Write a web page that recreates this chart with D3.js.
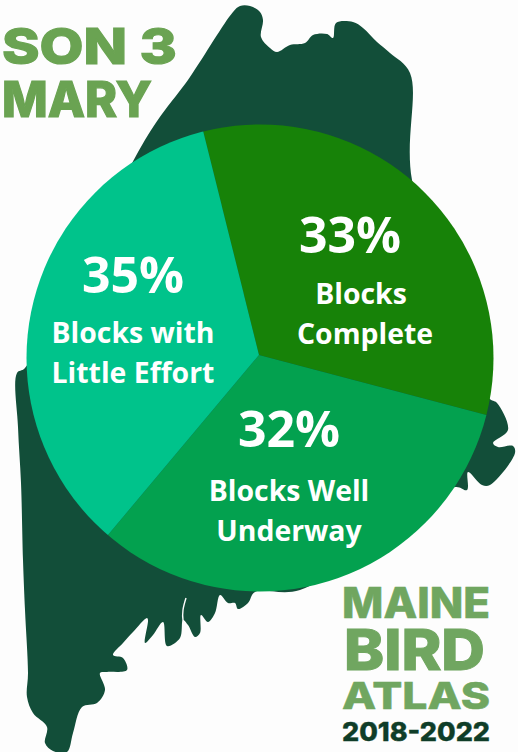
<!DOCTYPE html>
<html>
<head>
<meta charset="utf-8">
<style>
html, body { margin: 0; padding: 0; background: #fdfdfd; }
svg { display: block; }
text { font-family: "Open Sans", sans-serif; font-weight: 700; fill: #fff; text-anchor: middle; }
</style>
<script src="https://cdn.jsdelivr.net/npm/d3@7"></script>
</head>
<body>
<div id="chart"></div>
<script>
// chart values
const categories = ['Blocks Complete', 'Blocks Well Underway', 'Blocks with Little Effort'];
const percents = [33, 32, 35];
const sliceColors = ['#178208', '#03a14f', '#00c38b'];
const labelLines = [['Blocks', 'Complete'], ['Blocks Well', 'Underway'], ['Blocks with', 'Little Effort']];

const titleLines = ['SON 3', 'MARY'];
const logoLines = ['MAINE', 'BIRD', 'ATLAS', '2018-2022'];

// state silhouette behind the pie, traced by hand
const mapOutline = [
	[190,77],[233,12],[240,6],[250,6],[260,12],[263,20],[261,37],[270,48],[277,52],[290,45],[305,43],
	[313,35],[327,34],[333,38],[336,23],[353,22],[363,28],[377,42],[390,53],[410,73],[412,180],
	[489,398],[497,403],[508,430],[493,443],[498,447],[513,446],[515,453],[490,485],[482,485],
	[468,472],[467,490],[455,487],[300,590],[255,592],[248,603],[238,609],[235,603],[228,603],
	[220,595],[215,613],[208,622],[201,615],[200,633],[195,637],[188,625],[183,620],[180,638],
	[167,646],[163,622],[153,635],[145,643],[148,620],[147,618],[133,632],[123,643],[113,655],
	[123,658],[127,670],[107,672],[100,673],[105,690],[97,703],[82,707],[73,733],[67,752],[53,751],
	[45,743],[47,727],[33,713],[27,697],[28,673],[25,610],[23,560],[21,483],[18,427],[17,373],
	[25,368],[148,135]
];
const mapSlit = [[186,598],[183,610],[183,620],[186,628]];

const width = 518, height = 752;
const pieCenter = [259, 355];
const disc = {cx: 260, cy: 358, r: 233.5};
const startDeg = -14;

// where the texts of each slice sit: percent baseline, then two label baselines
const labelSpots = [
	{x: 350, y: [253, 304, 344], dx: [0, 11, 15]},
	{x: 289, y: [447, 501, 541], dx: [0, 0, 0]},
	{x: 133, y: [293, 343, 383], dx: [0, 0, 0]}
];

const svg = d3.select('#chart').append('svg')
	.attr('width', width)
	.attr('height', height);

svg.append('clipPath').attr('id', 'disc')
	.append('circle')
	.attr('cx', disc.cx)
	.attr('cy', disc.cy)
	.attr('r', disc.r);

function _renderMap(){
	const line = d3.line().curve(d3.curveCatmullRomClosed.alpha(0.5));
	svg.append('path')
		.attr('d', line(mapOutline))
		.attr('fill', '#124e39');
	svg.append('path')
		.attr('d', d3.line().curve(d3.curveCatmullRom)(mapSlit))
		.attr('fill', 'none')
		.attr('stroke', '#fdfdfd')
		.attr('stroke-width', 1.4);
	svg.append('ellipse')
		.attr('cx', 134)
		.attr('cy', 645)
		.attr('rx', 2)
		.attr('ry', 4)
		.attr('transform', 'rotate(20,134,645)')
		.attr('fill', '#fdfdfd');
}

function _renderPie(){
	const start = startDeg * Math.PI / 180;
	const pie = d3.pie().sort(null).startAngle(start).endAngle(start + 2 * Math.PI);
	const color = d3.scaleOrdinal().domain(categories).range(sliceColors);
	// slices overshoot and get trimmed by the disc, the tip is a bit off its centre
	const arc = d3.arc().innerRadius(0).outerRadius(disc.r + 20);

	svg.append('g')
		.attr('clip-path', 'url(#disc)')
		.append('g')
		.attr('transform', `translate(${pieCenter[0]}, ${pieCenter[1]})`)
		.selectAll('path')
		.data(pie(percents))
		.join('path')
			.attr('fill', (d, i) => color(categories[i]))
			.attr('d', arc);
}

function _renderLabels(){
	const g = svg.append('g').selectAll('g')
		.data(percents)
		.join('g');

	g.append('text')
		.attr('x', (d, i) => labelSpots[i].x)
		.attr('y', (d, i) => labelSpots[i].y[0])
		.attr('font-size', 50)
		.text(d => `${d}%`);

	[0, 1].forEach(n => {
		g.append('text')
			.attr('x', (d, i) => labelSpots[i].x + labelSpots[i].dx[n + 1])
			.attr('y', (d, i) => labelSpots[i].y[n + 1])
			.attr('font-size', 28.4)
			.text((d, i) => labelLines[i][n]);
	});
}

function _fitText(str, x, y, w, size, color, heavy){
	svg.append('text')
		.attr('x', x)
		.attr('y', y)
		.attr('textLength', w)
		.attr('lengthAdjust', 'spacingAndGlyphs')
		.style('text-anchor', 'start')
		.style('font-family', 'Inter, sans-serif')
		.style('font-weight', 800)
		.style('fill', color)
		.style('stroke', color)
		.style('stroke-width', heavy)
		.attr('font-size', size)
		.text(str);
}

function _renderBranding(){
	_fitText(titleLines[0], 2, 64, 175, 50, '#6aa352', 1.2);
	_fitText(titleLines[1], 2, 117, 150, 49, '#6aa352', 1.2);
	_fitText(logoLines[0], 342, 617.5, 148, 42, '#70a660', 0.6);
	_fitText(logoLines[1], 344, 669.5, 141, 57, '#70a660', 1);
	_fitText(logoLines[2], 342, 708.5, 148, 37, '#70a660', 0.5);
	_fitText(logoLines[3], 342, 740.5, 148, 26, '#0f3d28', 0.4);
}

_renderMap();
_renderPie();
_renderLabels();
_renderBranding();
</script>
</body>
</html>
